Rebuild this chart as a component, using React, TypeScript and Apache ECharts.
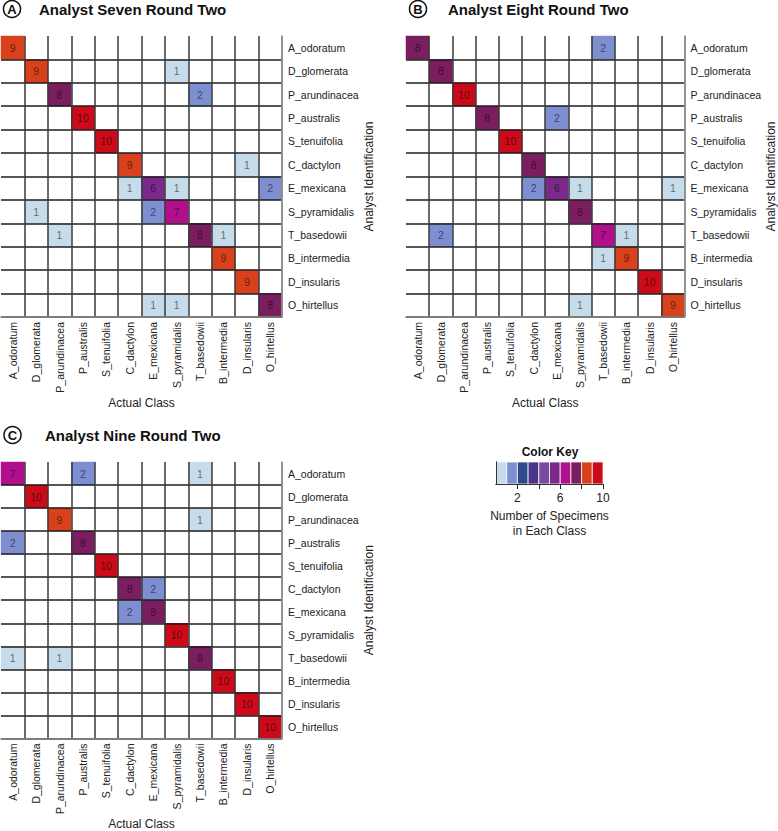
import React, { useEffect, useRef } from "react";
import * as echarts from "echarts";

const categories = [
  "A_odoratum", "D_glomerata", "P_arundinacea", "P_australis", "S_tenuifolia", "C_dactylon",
  "E_mexicana", "S_pyramidalis", "T_basedowii", "B_intermedia", "D_insularis", "O_hirtellus",
];

// rows = analyst identification, columns = actual class
const analystSeven = [
  [9, 0, 0, 0, 0, 0, 0, 0, 0, 0, 0, 0],
  [0, 9, 0, 0, 0, 0, 0, 1, 0, 0, 0, 0],
  [0, 0, 8, 0, 0, 0, 0, 0, 2, 0, 0, 0],
  [0, 0, 0, 10, 0, 0, 0, 0, 0, 0, 0, 0],
  [0, 0, 0, 0, 10, 0, 0, 0, 0, 0, 0, 0],
  [0, 0, 0, 0, 0, 9, 0, 0, 0, 0, 1, 0],
  [0, 0, 0, 0, 0, 1, 6, 1, 0, 0, 0, 2],
  [0, 1, 0, 0, 0, 0, 2, 7, 0, 0, 0, 0],
  [0, 0, 1, 0, 0, 0, 0, 0, 8, 1, 0, 0],
  [0, 0, 0, 0, 0, 0, 0, 0, 0, 9, 0, 0],
  [0, 0, 0, 0, 0, 0, 0, 0, 0, 0, 9, 0],
  [0, 0, 0, 0, 0, 0, 1, 1, 0, 0, 0, 8],
];

const analystEight = [
  [8, 0, 0, 0, 0, 0, 0, 0, 2, 0, 0, 0],
  [0, 8, 0, 0, 0, 0, 0, 0, 0, 0, 0, 0],
  [0, 0, 10, 0, 0, 0, 0, 0, 0, 0, 0, 0],
  [0, 0, 0, 8, 0, 0, 2, 0, 0, 0, 0, 0],
  [0, 0, 0, 0, 10, 0, 0, 0, 0, 0, 0, 0],
  [0, 0, 0, 0, 0, 8, 0, 0, 0, 0, 0, 0],
  [0, 0, 0, 0, 0, 2, 6, 1, 0, 0, 0, 1],
  [0, 0, 0, 0, 0, 0, 0, 8, 0, 0, 0, 0],
  [0, 2, 0, 0, 0, 0, 0, 0, 7, 1, 0, 0],
  [0, 0, 0, 0, 0, 0, 0, 0, 1, 9, 0, 0],
  [0, 0, 0, 0, 0, 0, 0, 0, 0, 0, 10, 0],
  [0, 0, 0, 0, 0, 0, 0, 1, 0, 0, 0, 9],
];

const analystNine = [
  [7, 0, 0, 2, 0, 0, 0, 0, 1, 0, 0, 0],
  [0, 10, 0, 0, 0, 0, 0, 0, 0, 0, 0, 0],
  [0, 0, 9, 0, 0, 0, 0, 0, 1, 0, 0, 0],
  [2, 0, 0, 8, 0, 0, 0, 0, 0, 0, 0, 0],
  [0, 0, 0, 0, 10, 0, 0, 0, 0, 0, 0, 0],
  [0, 0, 0, 0, 0, 8, 2, 0, 0, 0, 0, 0],
  [0, 0, 0, 0, 0, 2, 8, 0, 0, 0, 0, 0],
  [0, 0, 0, 0, 0, 0, 0, 10, 0, 0, 0, 0],
  [1, 0, 1, 0, 0, 0, 0, 0, 8, 0, 0, 0],
  [0, 0, 0, 0, 0, 0, 0, 0, 0, 10, 0, 0],
  [0, 0, 0, 0, 0, 0, 0, 0, 0, 0, 10, 0],
  [0, 0, 0, 0, 0, 0, 0, 0, 0, 0, 0, 10],
];

const panelTitles = ["Analyst Seven Round Two", "Analyst Eight Round Two", "Analyst Nine Round Two"];
const panelLetters = ["A", "B", "C"];

const keyValues = [1, 2, 3, 4, 5, 6, 7, 8, 9, 10];
const keyColors = [
  "#c6dcea", "#7d8fd0", "#2f4a8c", "#4a3589", "#7a4ba0",
  "#7b2a8c", "#b10f8b", "#7a1e60", "#d8411c", "#cd0a1a",
];
const keyTicks = [2, 4, 6, 8, 10];
const keyTickLabels = [2, 6, 10];

const FONT = "Liberation Sans, Arial, Helvetica, sans-serif";

const gridBoxes = [
  { left: 1, top: 36, width: 281, height: 281 },
  { left: 406, top: 36, width: 281, height: 281 },
  { left: 1, top: 462, width: 281, height: 281 },
];
const titlePos = [
  { cx: 12, cy: 9, tx: 39 },
  { cx: 418, cy: 9, tx: 448 },
  { cx: 12.5, cy: 435, tx: 45 },
];

function toCells(m: number[][]) {
  const out: number[][] = [];
  m.forEach((row, r) => row.forEach((v, c) => { if (v > 0) out.push([c, r, v]); }));
  return out;
}

export default function App() {
  const ref = useRef<HTMLDivElement>(null);
  useEffect(() => {
    if (!ref.current) return;
    const chart = echarts.init(ref.current, null, { renderer: "svg" });
    const matrices = [analystSeven, analystEight, analystNine];

    const grid: any[] = gridBoxes.map((g) => ({ ...g, containLabel: false }));
    grid.push({ left: 496, top: 462, width: 107, height: 22 });

    const xAxis: any[] = gridBoxes.map((_, i) => ({
      type: "category",
      gridIndex: i,
      data: categories,
      position: "bottom",
      z: 4,
      axisTick: { show: false },
      axisLine: { show: true, lineStyle: { color: "#8a8a8a", width: 1.5 } },
      splitLine: {
        show: true,
        interval: (idx: number) => idx !== 0,
        lineStyle: { color: "#3a3a3a", width: 1.5 },
      },
      axisLabel: { rotate: 90, fontSize: 10.5, color: "#222", margin: 5, fontFamily: FONT },
      name: "Actual Class",
      nameLocation: "middle",
      nameGap: 77,
      nameTextStyle: { fontSize: 12, color: "#222", fontFamily: FONT },
    }));
    const yAxis: any[] = gridBoxes.map((_, i) => ({
      type: "category",
      gridIndex: i,
      data: categories,
      inverse: true,
      position: "right",
      z: 4,
      axisTick: { show: false },
      axisLine: { show: true, lineStyle: { color: "#a0a0a0", width: 1.5 } },
      splitLine: {
        show: true,
        interval: (idx: number) => idx !== 0,
        lineStyle: { color: "#1e1e1e", width: 1.5 },
      },
      axisLabel: { fontSize: 10.5, color: "#222", margin: 6, fontFamily: FONT },
      name: "Analyst Identification",
      nameLocation: "middle",
      nameRotate: 90,
      nameGap: 72,
      nameTextStyle: { fontSize: 12, color: "#222", fontFamily: FONT },
    }));

    // colour key axes
    xAxis.push({
      type: "value",
      gridIndex: 3,
      min: 0,
      max: 10,
      interval: 2,
      position: "bottom",
      z: 5,
      axisLine: { show: true, lineStyle: { color: "#333", width: 1 } },
      axisTick: { show: true, length: 5, customValues: keyTicks, lineStyle: { color: "#222" } },
      axisLabel: { customValues: keyTickLabels, fontSize: 12, color: "#222", margin: 8, fontFamily: FONT },
      splitLine: { show: false },
      name: "Number of Specimens\nin Each Class",
      nameLocation: "middle",
      nameGap: 24,
      nameTextStyle: { fontSize: 12, color: "#222", lineHeight: 15, fontFamily: FONT },
    });
    xAxis.push({
      type: "value", gridIndex: 3, min: 0, max: 10, position: "top", z: 5,
      axisLine: { show: true, lineStyle: { color: "#333", width: 1 } },
      axisTick: { show: false }, axisLabel: { show: false }, splitLine: { show: false },
    });
    yAxis.push({
      type: "value", gridIndex: 3, min: 0, max: 1, position: "left", z: 5,
      axisLine: { show: true, lineStyle: { color: "#333", width: 1 } },
      axisTick: { show: false }, axisLabel: { show: false }, splitLine: { show: false },
    });
    yAxis.push({
      type: "value", gridIndex: 3, min: 0, max: 1, position: "right", z: 5,
      axisLine: { show: true, lineStyle: { color: "#333", width: 1 } },
      axisTick: { show: false }, axisLabel: { show: false }, splitLine: { show: false },
    });

    const series: any[] = matrices.map((m, i) => ({
      type: "heatmap",
      xAxisIndex: i,
      yAxisIndex: i,
      z: 2,
      data: toCells(m),
      label: { show: true, fontSize: 10.5, color: "rgba(0,0,0,0.55)", fontFamily: FONT },
      itemStyle: { borderWidth: 0 },
      emphasis: { disabled: true },
    }));
    series.push({
      type: "custom",
      xAxisIndex: 3,
      yAxisIndex: 3,
      data: keyValues.map((v) => [v]),
      renderItem: (params: any, api: any) => {
        const v = api.value(0);
        const p0 = api.coord([v - 1, 0]);
        const p1 = api.coord([v, 1]);
        return {
          type: "rect",
          shape: { x: p0[0], y: p1[1], width: p1[0] - p0[0], height: p0[1] - p1[1] },
          style: { fill: keyColors[v - 1], stroke: "rgba(255,255,255,0.75)", lineWidth: 1 },
        };
      },
    });

    const graphic: any[] = [];
    titlePos.forEach((p, i) => {
      graphic.push({
        type: "circle",
        shape: { cx: p.cx, cy: p.cy, r: 8.5 },
        style: { fill: "#fff", stroke: "#111", lineWidth: 1.5 },
      });
      graphic.push({
        type: "text",
        x: p.cx,
        y: p.cy + 0.5,
        style: {
          text: panelLetters[i], fill: "#111", font: `bold 13px ${FONT}`,
          align: "center", verticalAlign: "middle",
        },
      });
      graphic.push({
        type: "text",
        x: p.tx,
        y: p.cy,
        style: {
          text: panelTitles[i], fill: "#111", font: `bold 15px ${FONT}`,
          align: "left", verticalAlign: "middle",
        },
      });
    });
    graphic.push({
      type: "text",
      x: 550,
      y: 452,
      style: { text: "Color Key", fill: "#111", font: `bold 12px ${FONT}`, align: "center", verticalAlign: "middle" },
    });

    chart.setOption({
      animation: false,
      backgroundColor: "#fff",
      grid,
      xAxis,
      yAxis,
      visualMap: {
        type: "piecewise",
        show: false,
        seriesIndex: [0, 1, 2],
        dimension: 2,
        pieces: keyValues.map((v, i) => ({ value: v, color: keyColors[i] })),
      },
      series,
      graphic,
    });
    return () => chart.dispose();
  }, []);
  return (
    <div
      ref={ref}
      style={{ position: "fixed", left: 0, top: 0, width: 778, height: 831, background: "#fff" }}
    />
  );
}
